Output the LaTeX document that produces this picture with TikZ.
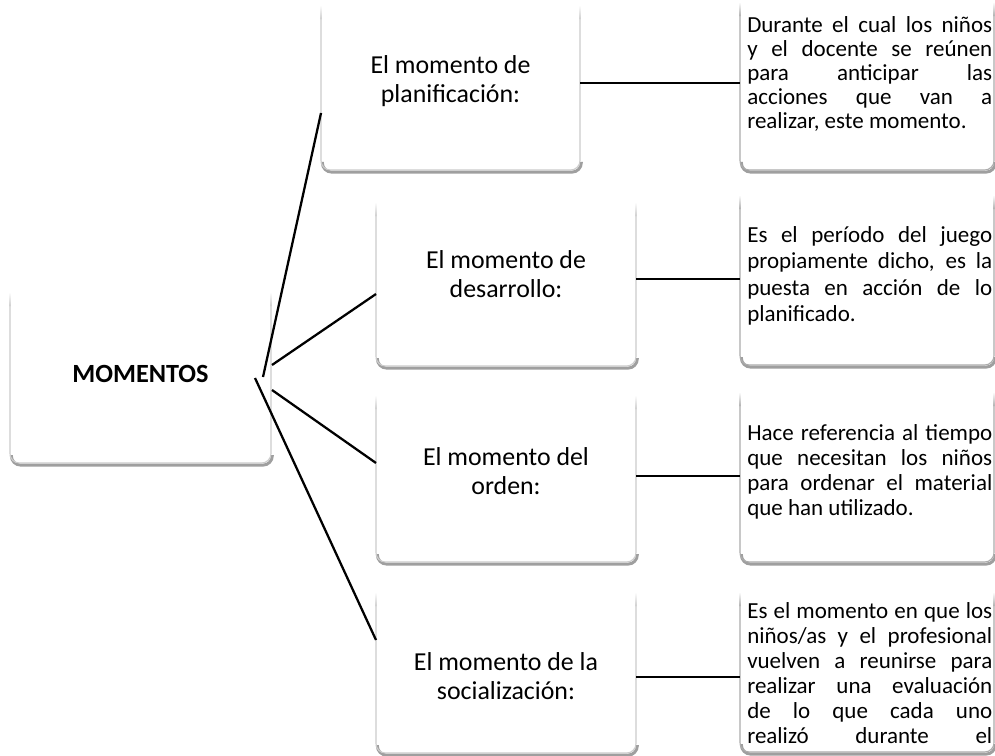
\documentclass[tikz,border=0pt]{standalone}
\usepackage{fontspec}
\setmainfont{Carlito}
\usetikzlibrary{calc}
\newlength\bodyw
\setlength\bodyw{183.75pt}
\newcommand{\cardnode}[5]{\node[card, minimum width={(#4-#2)*0.75pt}, minimum height={(#5-#3)*0.75pt}] (#1) at ({(#2+#4)/2},{(#3+#5)/2}) {};}
\newcommand{\cardframe}[2]{%
  \draw[cardshadow] ([xshift=1pt,yshift=6pt]#1.south west) -- ([xshift=1pt,yshift=-1.6pt]#1.south west) -- ([xshift=1pt,yshift=-1.6pt]#1.south east) -- ([xshift=1pt,yshift=6pt]#1.south east);
  \draw[cardedge, draw=#2] ([yshift=-11pt]#1.north west) -- (#1.south west) -- (#1.south east) -- ([yshift=-11pt]#1.north east);
  \shade[top color=white, bottom color=#2] ([xshift=-0.4pt]#1.north west) rectangle ([xshift=0.4pt,yshift=-11pt]#1.north west);
  \shade[top color=white, bottom color=#2] ([xshift=-0.4pt]#1.north east) rectangle ([xshift=0.4pt,yshift=-11pt]#1.north east);
}
\newcommand{\jl}[1]{\makebox[\bodyw][s]{#1}}
\begin{document}
\begin{tikzpicture}[x=0.75pt,y=-0.75pt,
  card/.style={rectangle, draw=none, inner sep=0pt, outer sep=0pt},
  cardedge/.style={line width=0.8pt, rounded corners=7pt},
  cardshadow/.style={line width=2.2pt, draw=gray!75, rounded corners=7pt},
  conn/.style={line width=1.7pt, draw=black},
  midtext/.style={font=\fontsize{19.4}{22.1}\selectfont, align=center, anchor=north, inner sep=0pt},
  bodytext/.style={align=left, anchor=north west, inner sep=0pt},
]
\useasboundingbox (0,0) rectangle (995,756);
\fill[white] (0,0) rectangle (995,756);

% boxes
\cardnode{mom}{10}{292}{271}{463}
\cardnode{m1}{321}{5}{580}{170}
\cardnode{m2}{376}{202}{636}{366}
\cardnode{m3}{376}{395}{636}{562}
\cardnode{m4}{376}{592}{636}{753}
\cardnode{r1}{740}{2}{994}{170}
\cardnode{r2}{740}{195}{994}{365}
\cardnode{r3}{740}{392}{994}{562}
\cardnode{r4}{740}{592}{994}{752}

\cardframe{mom}{gray!40}
\cardframe{m1}{gray!40}
\cardframe{m2}{gray!40}
\cardframe{m3}{gray!40}
\cardframe{m4}{gray!40}
\cardframe{r1}{gray!65}
\cardframe{r2}{gray!65}
\cardframe{r3}{gray!65}
\cardframe{r4}{gray!65}

% connector points
\coordinate (s1) at (263,377);
\coordinate (s2) at (272,365);
\coordinate (s3) at (272,390);
\coordinate (s4) at (255,378);
\coordinate (e1) at (0,113);
\coordinate (e2) at (0,294);
\coordinate (e3) at (0,463);
\coordinate (e4) at (0,640);
\coordinate (h1) at (0,83);
\coordinate (h2) at (0,279);
\coordinate (h3) at (0,476);
\coordinate (h4) at (0,677);

\draw[conn] (s1) -- (m1.west |- e1);
\draw[conn] (s2) -- (m2.west |- e2);
\draw[conn] (s3) -- (m3.west |- e3);
\draw[conn] (s4) -- (m4.west |- e4);
\draw[conn] (m1.east |- h1) -- (r1.west |- h1);
\draw[conn] (m2.east |- h2) -- (r2.west |- h2);
\draw[conn] (m3.east |- h3) -- (r3.west |- h3);
\draw[conn] (m4.east |- h4) -- (r4.west |- h4);

% texts
\node[font=\bfseries\fontsize{19.7}{23}\selectfont, anchor=base, inner sep=0pt] (momt) at (140.5,382) {MOMENTOS};

\node[midtext] (m1t) at (450.5,52.3) {\rule{0pt}{15.5pt}El momento de\\planificación:};
\node[midtext] (m2t) at (506,247.3) {\rule{0pt}{15.5pt}El momento de\\desarrollo:};
\node[midtext] (m3t) at (506,444.3) {\rule{0pt}{15.5pt}El momento del\\orden:};
\node[midtext] (m4t) at (506,649.3) {\rule{0pt}{15.5pt}El momento de la\\socialización:};

\node[bodytext, font=\fontsize{17.25}{18}\selectfont] (r1t) at (747,14) {\rule{0pt}{13.5pt}\jl{Durante el cual los niños}\\\jl{y el docente se reúnen}\\\jl{para anticipar las}\\\jl{acciones que van a}\\realizar, este momento.};
\node[bodytext, font=\fontsize{17.25}{19.9}\selectfont] (r2t) at (747,224) {\rule{0pt}{13.5pt}\jl{Es el período del juego}\\\jl{propiamente dicho, es la}\\\jl{puesta en acción de lo}\\planificado.};
\node[bodytext, font=\fontsize{17.25}{18.75}\selectfont] (r3t) at (747,422) {\rule{0pt}{13.5pt}\jl{Hace referencia al tiempo}\\\jl{que necesitan los niños}\\\jl{para ordenar el material}\\que han utilizado.};
\node[bodytext, font=\fontsize{17.25}{18.75}\selectfont] (r4t) at (747,600) {\rule{0pt}{13.5pt}\jl{Es el momento en que los}\\\jl{niños/as y el profesional}\\\jl{vuelven a reunirse para}\\\jl{realizar una evaluación}\\\jl{de lo que cada uno}\\\jl{realizó durante el}};
\end{tikzpicture}
\end{document}
